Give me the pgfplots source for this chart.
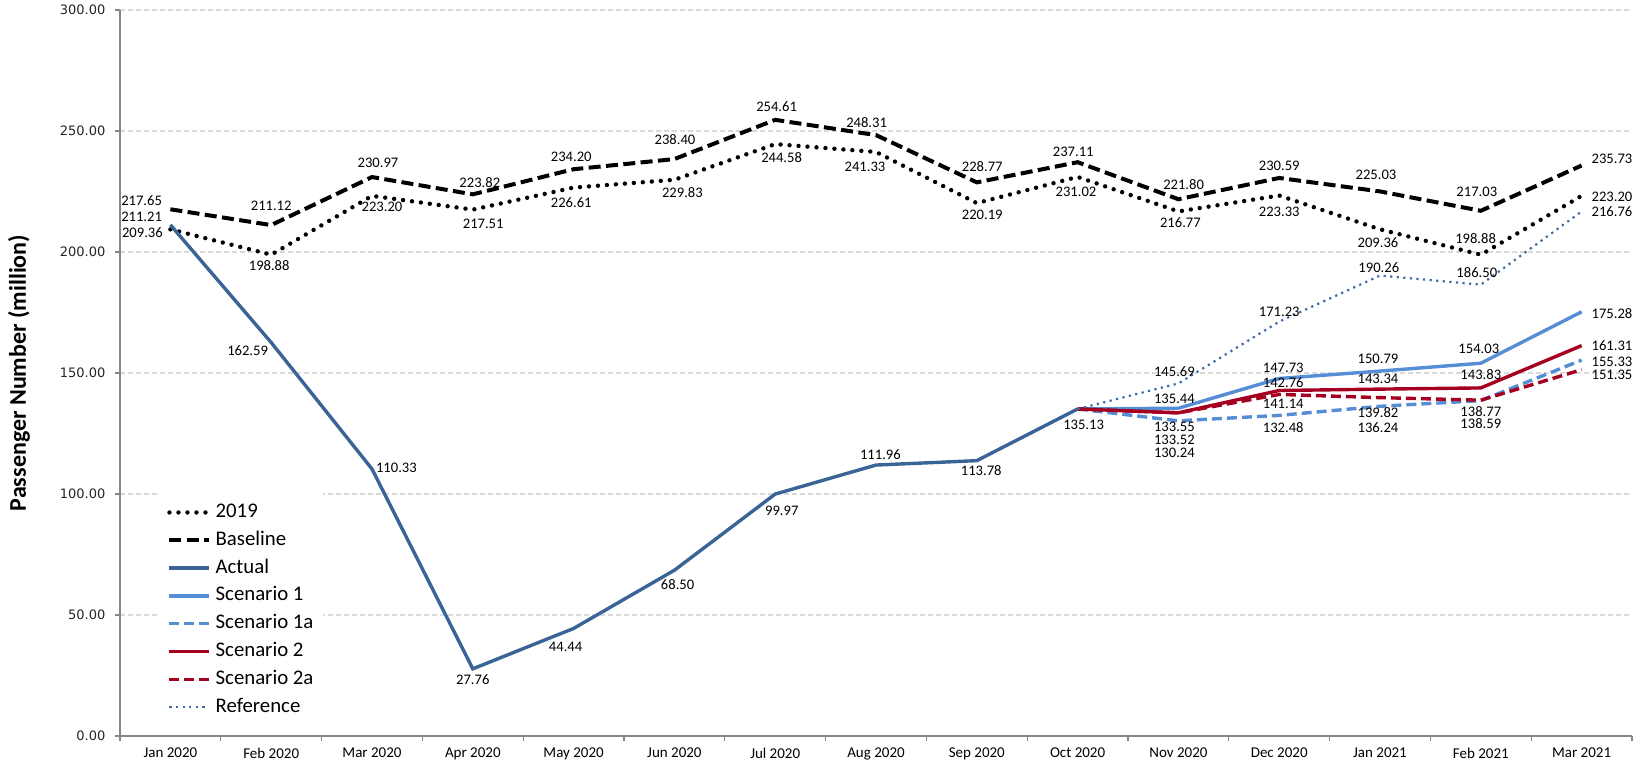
\documentclass[border=0pt]{standalone}
\usepackage{fontspec}
\setmainfont{Carlito}
\newfontfamily\tickfont{DejaVu Sans}
\usepackage{pgfplots}
\usepackage{pgfplotstable}
\pgfplotsset{compat=1.18}

\definecolor{actualblue}{RGB}{58,99,150}
\definecolor{scenblue}{RGB}{85,142,213}
\definecolor{scenred}{RGB}{166,0,33}
\definecolor{refblue}{RGB}{61,107,167}
\definecolor{axisgray}{RGB}{134,134,134}
\definecolor{gridgray}{RGB}{217,217,217}

% columns: x, value, label text, label centre shift from the point (pt)
\pgfplotstableread{
x y lab dx dy
0 209.36 209.36 -14 -1.7
1 198.88 198.88 -1 -5.5
2 223.20 223.20 5 -5.5
3 217.51 217.51 5.2 -7
4 226.61 226.61 -1.2 -7.6
5 229.83 229.83 4 -6.5
6 244.58 244.58 3.2 -6.8
7 241.33 241.33 -5.5 -7.5
8 220.19 220.19 2.7 -6
9 231.02 231.02 -0.8 -7.5
10 216.77 216.77 1 -5.7
11 223.33 223.33 0 -8.3
12 209.36 209.36 -1 -6.8
13 198.88 198.88 -2.6 8.3
14 223.20 223.20 15.2 -0.7
}\tnineteen

\pgfplotstableread{
x y lab dx dy
0 217.65 217.65 -14.4 4.3
1 211.12 211.12 0 9.5
2 230.97 230.97 3 7.1
3 223.82 223.82 3.5 6
4 234.20 234.20 -1.2 6.2
5 238.40 238.40 0.3 9.5
6 254.61 254.61 0.7 6.6
7 248.31 248.31 -4.7 6.2
8 228.77 228.77 2.7 8.1
9 237.11 237.11 -2.2 5.2
10 221.80 221.80 2.6 7.3
11 230.59 230.59 0 6
12 225.03 225.03 -2 8.3
13 217.03 217.03 -2 9.5
14 235.73 235.73 15.2 3.3
}\tbase

\pgfplotstableread{
x y lab dx dy
0 211.21 211.21 -14.4 4.2
1 162.59 162.59 -11.8 -4.3
2 110.33 110.33 12.2 0.8
3 27.76 27.76 0 -5.5
4 44.44 44.44 -4 -9.1
5 68.50 68.50 1.6 -7
6 99.97 99.97 3.3 -8.6
7 111.96 111.96 2.2 5.3
8 113.78 113.78 2.2 -4.8
9 135.13 135.13 3 -7.8
}\tactual

\pgfplotstableread{
x y lab dx dy
9 135.13 {} 0 0
10 135.44 135.44 -2 4.7
11 147.73 147.73 2 5.3
12 150.79 150.79 -1 6.2
13 154.03 154.03 -1 7.3
14 175.28 175.28 15.2 -0.7
}\tsone

\pgfplotstableread{
x y lab dx dy
9 135.13 {} 0 0
10 130.24 130.24 -2 -16.2
11 132.48 132.48 2 -6.3
12 136.24 136.24 -1 -10.5
13 138.59 138.59 0 -11.7
14 155.33 155.33 15.2 -0.8
}\tsonea

\pgfplotstableread{
x y lab dx dy
9 135.13 {} 0 0
10 133.55 133.55 -2 -7
11 142.76 142.76 2 3.8
12 143.34 143.34 -1 5.2
13 143.83 143.83 0 6.7
14 161.31 161.31 15.2 0
}\tstwo

\pgfplotstableread{
x y lab dx dy
9 135.13 {} 0 0
10 133.52 133.52 -2 -13.6
11 141.14 141.14 2 -4.7
12 139.82 139.82 -1 -7.3
13 138.77 138.77 0 -5.5
14 151.35 151.35 15.2 -2.5
}\tstwoa

\pgfplotstableread{
x y lab dx dy
9 135.13 {} 0 0
10 145.69 145.69 -2 5.7
11 171.23 171.23 0 5
12 190.26 190.26 -0.6 4
13 186.50 186.50 -2 6.2
14 216.76 216.76 15.2 0
}\tref

\pgfplotsset{
  lbl/.style={
    point meta=explicit symbolic,
    visualization depends on={\thisrow{dx}\as\ldx},
    visualization depends on={\thisrow{dy}\as\ldy},
    nodes near coords,
    nodes near coords style={anchor=center, xshift=\ldx pt, yshift=\ldy pt,
      inner sep=0.5pt, font=\fontsize{7.3}{8}\selectfont, text=black},
  },
}

\begin{document}
\begin{tikzpicture}
\begin{axis}[
  name=ax,
  scale only axis,
  width=756pt, height=363pt,
  xmin=-0.5, xmax=14.5, ymin=0, ymax=300,
  clip=false,
  axis x line=bottom, axis y line=left,
  axis line style={-, draw=axisgray, line width=0.6pt},
  xtick={0,...,14},
  xticklabels={Jan 2020, Feb 2020, Mar 2020, Apr 2020, May 2020, Jun 2020, Jul 2020, Aug 2020, Sep 2020, Oct 2020, Nov 2020, Dec 2020, Jan 2021, Feb 2021, Mar 2021},
  minor xtick={-0.5,0.5,...,14.5},
  major x tick style={draw=none},
  minor x tick style={draw=axisgray, line width=0.6pt},
  ytick={0,50,...,300},
  y tick style={draw=axisgray, line width=0.6pt},
  tick align=outside,
  major tick length=2.5pt, minor tick length=2.5pt,
  ymajorgrids,
  major grid style={draw=gridgray, line width=0.6pt, dash pattern=on 2.5pt off 1.5pt},
  yticklabel style={font=\tickfont\fontsize{6.5}{7}\selectfont, text=black!85, xshift=-1.3pt,
    /pgf/number format/.cd, fixed, fixed zerofill, precision=2, assume math mode=true},
  xticklabel style={font=\fontsize{7.5}{8}\selectfont, text=black},
  legend style={at={(0.0257,0.336)}, anchor=north west, draw=none, fill=white,
    inner sep=4pt, font=\fontsize{10.4}{12}\selectfont, row sep=1.9pt, column sep=1.3pt,
    cells={anchor=west}, nodes={inner sep=1pt, text height=7.5pt, text depth=2.5pt}},
  legend image code/.code={\draw[#1] (0pt,0pt) -- (19.7pt,0pt);},
]
\addplot[black, line width=2.2pt, line cap=round, dash pattern=on 0pt off 4.5pt, lbl]
  table[x=x, y=y, meta=lab] {\tnineteen};
\addlegendentry{2019}
\addplot[black, line width=2pt, dash pattern=on 6pt off 2.7pt, lbl]
  table[x=x, y=y, meta=lab] {\tbase};
\addlegendentry{Baseline}
\addplot[actualblue, line width=1.7pt, lbl]
  table[x=x, y=y, meta=lab] {\tactual};
\addlegendentry{Actual}
\addplot[scenblue, line width=1.7pt, lbl]
  table[x=x, y=y, meta=lab] {\tsone};
\addlegendentry{Scenario 1}
\addplot[scenblue, line width=1.7pt, dash pattern=on 5pt off 2.5pt, lbl]
  table[x=x, y=y, meta=lab] {\tsonea};
\addlegendentry{Scenario 1a}
\addplot[scenred, line width=1.7pt, lbl]
  table[x=x, y=y, meta=lab] {\tstwo};
\addlegendentry{Scenario 2}
\addplot[scenred, line width=1.7pt, dash pattern=on 5pt off 2.5pt, lbl]
  table[x=x, y=y, meta=lab] {\tstwoa};
\addlegendentry{Scenario 2a}
\addplot[refblue, line width=1.1pt, dash pattern=on 1.1pt off 2.2pt, lbl]
  table[x=x, y=y, meta=lab] {\tref};
\addlegendentry{Reference}
\end{axis}
\node[rotate=90, anchor=center, font=\bfseries\fontsize{12}{14}\selectfont]
  at ([xshift=-50.5pt]ax.west) {Passenger Number (million)};
\pgfresetboundingbox
\path[use as bounding box] ([xshift=-60pt,yshift=-14pt]ax.south west) rectangle ([xshift=7.5pt,yshift=5pt]ax.north east);
\end{tikzpicture}
\end{document}
